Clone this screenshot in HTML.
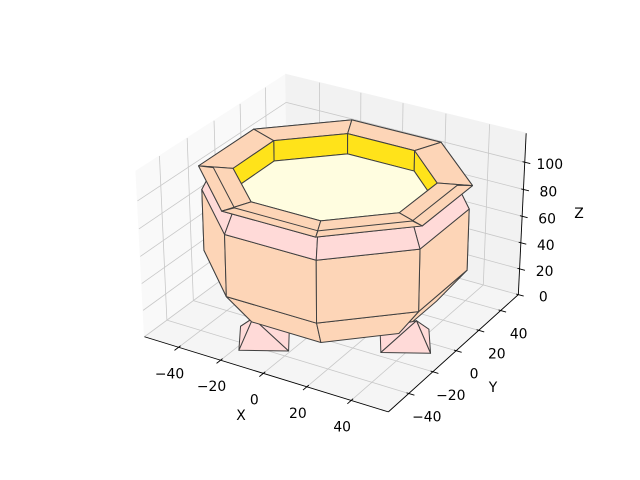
<!DOCTYPE html>
<html><head><meta charset="utf-8"><style>
html,body{margin:0;padding:0;background:#fff}
svg{display:block}
text{font-family:"DejaVu Sans","Liberation Sans",sans-serif;font-size:13.9px;fill:#000}
</style></head><body>
<svg id="chart" width="640" height="480" viewBox="0 0 640 480" xmlns="http://www.w3.org/2000/svg">
<rect width="640" height="480" fill="#fff"/>
<g id="panes"></g>
<g id="grid"></g>
<g id="axes"></g>
<g id="pot"></g>
<g id="labels"></g>
<text x="241" y="420" text-anchor="middle">X</text>
<text x="493" y="392" text-anchor="middle">Y</text>
<text x="579" y="218" text-anchor="middle">Z</text>
</svg>
<script>
// ---- data ----
const xLim = [-56.5, 56.5];
const yLim = [-56.5, 56.5];
const zLim = [0, 121];
const xTicks = [-40, -20, 0, 20, 40];
const yTicks = [-40, -20, 0, 20, 40];
const zTicks = [0, 20, 40, 60, 80, 100];
// pot profile rings: z level and radius
const ringZ = [17, 42, 87, 103.5, 104, 104, 89];
const ringR = [42, 54, 54, 49, 55, 41, 41];
// bands between consecutive rings (index pairs) and their colours
const bandFrom = [0, 1, 2, 3, 4, 5];
const bandTo   = [1, 2, 3, 4, 5, 6];
const bandColor = ['#fdd5b7', '#fdd5b7', '#ffdad8', '#fdd5b7', '#fdd5b7', '#ffe31a'];
const bandName = ['bottom-taper', 'body', 'shoulder', 'rim-lip', 'rim-top', 'inner-wall'];
const floorRing = 6;
const footAngles = [75, 165, 255, 345];
const footRadius = 40, footHalf = 14, footBaseZ = 7, footTopZ = 26, footTopR = 46;

// ---- projection (matplotlib-like persp, elev 30, azim -60) ----
const bs = 1.8294640721620434 / Math.hypot(4, 4, 3);
const box = [4 * bs, 4 * bs, 3 * bs];
const el = 30 * Math.PI / 180, az = -60 * Math.PI / 180;
const pd = [Math.cos(el) * Math.cos(az), Math.cos(el) * Math.sin(az), Math.sin(el)];
const eye = [box[0] / 2 + 10 * pd[0], box[1] / 2 + 10 * pd[1], box[2] / 2 + 10 * pd[2]];
function cross(a, b) { return [a[1]*b[2]-a[2]*b[1], a[2]*b[0]-a[0]*b[2], a[0]*b[1]-a[1]*b[0]]; }
function dot(a, b) { return a[0]*b[0]+a[1]*b[1]+a[2]*b[2]; }
function nrm(a) { const l = Math.hypot(a[0], a[1], a[2]); return [a[0]/l, a[1]/l, a[2]/l]; }
const W = nrm(pd), U = nrm(cross([0, 0, 1], W)), V = cross(W, U);
function raw(p) {
  const n = [(p[0]-xLim[0])/(xLim[1]-xLim[0])*box[0], (p[1]-yLim[0])/(yLim[1]-yLim[0])*box[1], (p[2]-zLim[0])/(zLim[1]-zLim[0])*box[2]];
  const d = [n[0]-eye[0], n[1]-eye[1], n[2]-eye[2]];
  const zv = dot(W, d);
  return [dot(U, d) / -zv, dot(V, d) / -zv, -zv];
}
// calibrate screen affine from box corners
const calib = [
  [[xLim[0], yLim[0], zLim[0]], [145, 345]],
  [[xLim[1], yLim[0], zLim[0]], [388, 404]],
  [[xLim[1], yLim[1], zLim[0]], [518, 303]],
  [[xLim[1], yLim[1], zLim[1]], [527, 127]],
  [[xLim[0], yLim[1], zLim[1]], [285, 82]],
  [[xLim[0], yLim[0], zLim[1]], [136, 161]]
];
function solve3(A, b) {
  const M = A.map((r, i) => r.concat([b[i]]));
  for (let i = 0; i < 3; i++) {
    let m = i; for (let k = i+1; k < 3; k++) if (Math.abs(M[k][i]) > Math.abs(M[m][i])) m = k;
    [M[i], M[m]] = [M[m], M[i]];
    for (let k = 0; k < 3; k++) if (k !== i) { const f = M[k][i] / M[i][i]; for (let j = i; j < 4; j++) M[k][j] -= f * M[i][j]; }
  }
  return [M[0][3]/M[0][0], M[1][3]/M[1][1], M[2][3]/M[2][2]];
}
const AtA = [[0,0,0],[0,0,0],[0,0,0]], Atx = [0,0,0], Aty = [0,0,0];
calib.forEach(c => { const r = raw(c[0]); const row = [r[0], r[1], 1];
  for (let i = 0; i < 3; i++) { for (let j = 0; j < 3; j++) AtA[i][j] += row[i]*row[j]; Atx[i] += row[i]*c[1][0]; Aty[i] += row[i]*c[1][1]; } });
const cx = solve3(AtA, Atx), cy = solve3(AtA, Aty);
function P(p) { const r = raw(p); return [cx[0]*r[0]+cx[1]*r[1]+cx[2], cy[0]*r[0]+cy[1]*r[1]+cy[2], r[2]]; }

const NS = 'http://www.w3.org/2000/svg';
function mk(tag, attrs, parent) { const e = document.createElementNS(NS, tag); for (const k in attrs) e.setAttribute(k, attrs[k]); parent.appendChild(e); return e; }
function pts(list) { return list.map(p => { const q = P(p); return q[0].toFixed(2) + ',' + q[1].toFixed(2); }).join(' '); }

// ---- panes ----
const gP = document.getElementById('panes');
const [x0, x1] = xLim, [y0, y1] = yLim, [z0, z1] = zLim;
let e;
e = mk('polygon', {points: pts([[x0,y0,z0],[x0,y1,z0],[x0,y1,z1],[x0,y0,z1]]), fill: '#f9f9f9', stroke: '#f9f9f9'}, gP);


e = mk('polygon', {points: pts([[x0,y1,z0],[x1,y1,z0],[x1,y1,z1],[x0,y1,z1]]), fill: '#f2f2f2', stroke: '#f2f2f2'}, gP);


e = mk('polygon', {points: pts([[x0,y0,z0],[x1,y0,z0],[x1,y1,z0],[x0,y1,z0]]), fill: '#f5f5f5', stroke: '#f5f5f5'}, gP);



// ---- grid ----
const gG = document.getElementById('grid');
function gline(a, b, name) {
  const A = P(a), B = P(b);
  const l = mk('line', {x1: A[0], y1: A[1], x2: B[0], y2: B[1], stroke: '#c8c8c8', 'stroke-width': 0.8}, gG);
  
  
}
xTicks.forEach(t => { gline([t,y0,z0],[t,y1,z0],'grid-x-floor'); gline([t,y1,z0],[t,y1,z1],'grid-x-back'); });
yTicks.forEach(t => { gline([x0,t,z0],[x1,t,z0],'grid-y-floor'); gline([x0,t,z0],[x0,t,z1],'grid-y-side'); });
zTicks.forEach(t => { gline([x0,y0,t],[x0,y1,t],'grid-z-side'); gline([x0,y1,t],[x1,y1,t],'grid-z-back'); });

// ---- axes, ticks, labels ----
const gA = document.getElementById('axes'), gL = document.getElementById('labels');
function aline(a, b, name, w) {
  const A = P(a), B = P(b);
  const l = mk('line', {x1: A[0], y1: A[1], x2: B[0], y2: B[1], stroke: '#000', 'stroke-width': w}, gA);
  
  
}
function lab(p, dx, dy, txt, name) {
  const q = P(p);
  const t = mk('text', {x: (q[0]+dx).toFixed(1), y: (q[1]+dy+5).toFixed(1), 'text-anchor': 'middle'}, gL);
  t.textContent = txt;
  
  
}
const fmt = v => v < 0 ? '\u2212' + Math.abs(v) : String(v);
aline([x0,y0,z0],[x1,y0,z0],'x-axis-line',0.9);
aline([x1,y0,z0],[x1,y1,z0],'y-axis-line',0.9);
aline([x1,y1,z0],[x1,y1,z1],'z-axis-line',0.9);
xTicks.forEach(t => { aline([t,y0+1.5,z0],[t,y0-3,z0],'x-tick',0.9); lab([t,y0,z0],-9,26,fmt(t),'x-tick-label'); });
yTicks.forEach(t => { aline([x1-1,t,z0],[x1+2.5,t,z0],'y-tick',0.9); lab([x1,t,z0],18,23,fmt(t),'y-tick-label'); });
zTicks.forEach(t => { aline([x1-1,y1,t],[x1+2.5,y1,t],'z-tick',0.9); lab([x1,y1,t],25,2,fmt(t),'z-tick-label'); });

// ---- pot mesh ----
const polys = [];
function ring(i) {
  const out = [];
  for (let k = 0; k < 8; k++) { const a = (22.5 + 45*k) * Math.PI / 180; out.push([ringR[i]*Math.cos(a), ringR[i]*Math.sin(a), ringZ[i]]); }
  return out;
}
bandFrom.forEach((f, bi) => {
  const A = ring(f), B = ring(bandTo[bi]);
  for (let k = 0; k < 8; k++) { const k2 = (k+1) % 8; polys.push({v: [A[k], A[k2], B[k2], B[k]], c: bandColor[bi], n: bandName[bi] + '-face'}); }
});
polys.push({v: ring(floorRing), c: '#fffde0', n: 'inner-floor'});
footAngles.forEach(ang => {
  const a = ang * Math.PI / 180, ca = Math.cos(a), sa = Math.sin(a);
  const cxf = footRadius*ca, cyf = footRadius*sa;
  const base = [[cxf+footHalf*ca, cyf+footHalf*sa, footBaseZ], [cxf-footHalf*sa, cyf+footHalf*ca, footBaseZ], [cxf-footHalf*ca, cyf-footHalf*sa, footBaseZ], [cxf+footHalf*sa, cyf-footHalf*ca, footBaseZ]];
  const apex = [footTopR*ca, footTopR*sa, footTopZ];
  for (let k = 0; k < 4; k++) polys.push({v: [base[k], base[(k+1)%4], apex], c: '#ffdad8', n: 'foot-face'});
});
polys.forEach(p => { p.pp = p.v.map(P); p.d = p.pp.reduce((s, q) => s + q[2], 0) / p.pp.length; });
polys.sort((a, b) => b.d - a.d);
const gM = document.getElementById('pot');
polys.forEach(p => {
  const el2 = mk('polygon', {points: p.pp.map(q => q[0].toFixed(2)+','+q[1].toFixed(2)).join(' '), fill: p.c, stroke: '#404040', 'stroke-width': 1, 'stroke-linejoin': 'round'}, gM);
  
  
});
</script>
</body></html>
